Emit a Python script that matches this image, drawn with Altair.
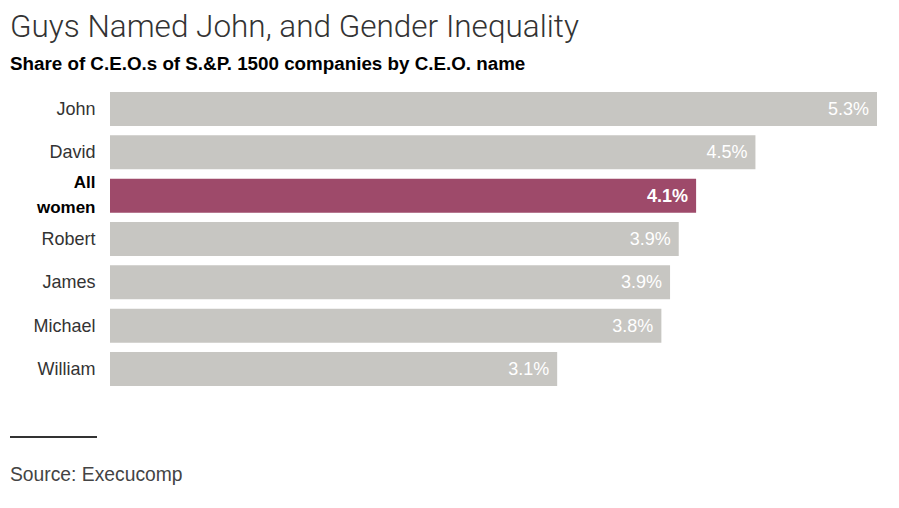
import altair as alt
import pandas as pd

# ---- data ----
names = ["John", "David", "All women", "Robert", "James", "Michael", "William"]
shares = [5.3, 4.46, 4.05, 3.93, 3.87, 3.81, 3.09]
share_labels = ["5.3%", "4.5%", "4.1%", "3.9%", "3.9%", "3.8%", "3.1%"]
groups = ["man", "man", "woman", "man", "man", "man", "man"]

title_text = "Guys Named John, and Gender Inequality"
subtitle_text = "Share of C.E.O.s of S.&P. 1500 companies by C.E.O. name"
source_text = "Source: Execucomp"

df = pd.DataFrame({"name": names, "share": shares, "label": share_labels, "group": groups})

W = 767
H = 303.33
PAD_L = 102
PAD_T = 79.33

FONT = "Liberation Sans"
IS_W = "datum.value == 'All women'"

x_scale = alt.Scale(domain=[0, 5.3], nice=False, zero=True)
y_scale = alt.Scale(paddingInner=0.215, paddingOuter=0.1077)

y_enc = alt.Y(
    "name:N",
    sort=names,
    scale=y_scale,
    title=None,
    axis=alt.Axis(
        ticks=False,
        domain=False,
        grid=False,
        labelPadding=15,
        labelFont=FONT,
        labelLineHeight=25,
        labelExpr="datum.value == 'All women' ? ['All', 'women'] : datum.label",
        labelFontSize=alt.condition(IS_W, alt.value(17), alt.value(18)),
        labelOffset=alt.condition(IS_W, alt.value(-13), alt.value(1)),
        labelFontWeight=alt.condition(IS_W, alt.value("bold"), alt.value("normal")),
        labelColor=alt.condition(IS_W, alt.value("#000000"), alt.value("#333333")),
    ),
)

base = alt.Chart(df)

bars = base.mark_bar().encode(
    x=alt.X("share:Q", scale=x_scale, axis=None, title=None),
    y=y_enc,
    color=alt.Color(
        "group:N",
        scale=alt.Scale(domain=["man", "woman"], range=["#c7c6c2", "#9e4a6a"]),
        legend=None,
    ),
)

val_men = base.transform_filter("datum.group == 'man'").mark_text(
    align="right", baseline="middle", dx=-8, dy=1, color="white", font=FONT, fontSize=18
).encode(x="share:Q", y=alt.Y("name:N", sort=names), text="label:N")

val_women = base.transform_filter("datum.group == 'woman'").mark_text(
    align="right", baseline="middle", dx=-8, dy=1, color="white", font=FONT, fontSize=18, fontWeight="bold"
).encode(x="share:Q", y=alt.Y("name:N", sort=names), text="label:N")

title = alt.Chart(pd.DataFrame({"t": [title_text]})).mark_text(
    align="left", baseline="alphabetic", font="Roboto", fontWeight=300, fontSize=31.5, color="#333333"
).encode(text="t:N", x=alt.value(10 - 110), y=alt.value(37.5 - 87.33))

subtitle = alt.Chart(pd.DataFrame({"t": [subtitle_text]})).mark_text(
    align="left", baseline="alphabetic", font=FONT, fontWeight="bold", fontSize=18.8, color="#000000"
).encode(text="t:N", x=alt.value(10 - 110), y=alt.value(70.5 - 87.33))

rule = alt.Chart(pd.DataFrame({"t": [0]})).mark_rule(color="#333333", strokeWidth=2).encode(
    x=alt.value(10 - 110), x2=alt.value(97 - 110), y=alt.value(437 - 87.33)
)

source = alt.Chart(pd.DataFrame({"t": [source_text]})).mark_text(
    align="left", baseline="alphabetic", font=FONT, fontSize=19.3, color="#444444"
).encode(text="t:N", x=alt.value(10 - 110), y=alt.value(481 - 87.33))

chart = alt.layer(bars, val_men, val_women, title, subtitle, rule, source).properties(
    width=W,
    height=H,
    autosize="none",
    padding={"left": PAD_L, "top": PAD_T, "right": 14, "bottom": 100},
).configure_view(stroke=None)

chart.save("out.html", embed_options={"renderer": "svg", "actions": False})
